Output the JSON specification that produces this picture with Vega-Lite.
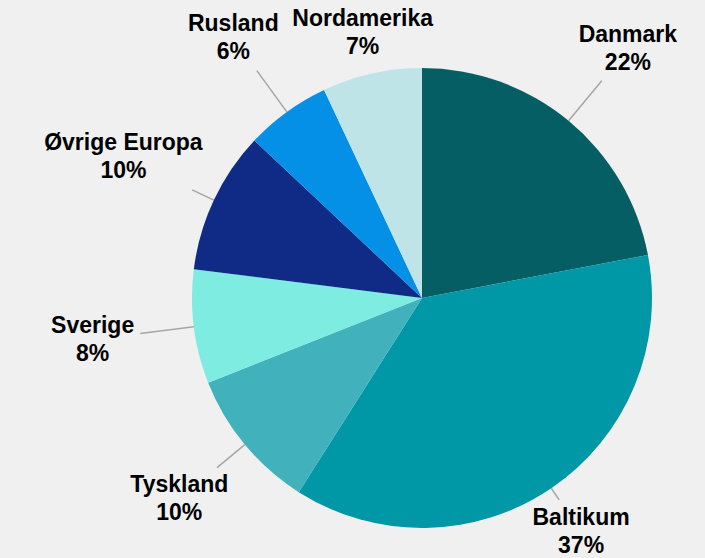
{
  "$schema": "https://vega.github.io/schema/vega-lite/v6.json",
  "autosize": {"type": "none"},
  "padding": {"left": 139, "top": 38, "right": 0, "bottom": 0},
  "width": 566,
  "height": 520,
  "background": "#f0f0f0",
  "view": {"stroke": null},
  "data": {
    "values": [
      {"order": 1, "land": "Danmark", "value": 0.22},
      {"order": 2, "land": "Baltikum", "value": 0.37},
      {"order": 3, "land": "Tyskland", "value": 0.10},
      {"order": 4, "land": "Sverige", "value": 0.08},
      {"order": 5, "land": "Øvrige Europa", "value": 0.10},
      {"order": 6, "land": "Rusland", "value": 0.06},
      {"order": 7, "land": "Nordamerika", "value": 0.07}
    ]
  },
  "layer": [
    {
      "mark": {"type": "arc", "radius": 230},
      "encoding": {
        "theta": {"field": "value", "type": "quantitative", "stack": true, "scale": {"domain": [0, 1]}},
        "order": {"field": "order", "type": "quantitative"},
        "color": {
          "field": "land",
          "type": "nominal",
          "legend": null,
          "scale": {
            "domain": ["Danmark", "Baltikum", "Tyskland", "Sverige", "Øvrige Europa", "Rusland", "Nordamerika"],
            "range": ["#055e63", "#0097a6", "#41b1bc", "#7fece2", "#0f2b86", "#0590e7", "#bfe4e8"]
          }
        }
      }
    },
    {
      "transform": [
        {"stack": "value", "groupby": [], "sort": [{"field": "order", "order": "ascending"}], "as": ["s0", "s1"]},
        {"fold": ["s0", "s1"], "as": ["k", "v"]},
        {"aggregate": [{"op": "mean", "field": "v", "as": "mid"}], "groupby": ["land", "order"]},
        {"filter": "datum.land !== 'Nordamerika'"}
      ],
      "mark": {"type": "arc", "radius2": 230, "filled": false, "stroke": "#a6a6a6", "strokeWidth": 1.5},
      "encoding": {
        "theta": {"field": "mid", "type": "quantitative"},
        "theta2": {"field": "mid"},
        "radius": {
          "field": "order",
          "type": "quantitative",
          "scale": {"type": "linear", "zero": false, "domain": [1, 2, 3, 4, 5, 6], "range": [282, 244, 266, 284, 254, 281]}
        }
      }
    },
    {
      "transform": [
        {"stack": "value", "groupby": [], "sort": [{"field": "order", "order": "ascending"}], "as": ["s0", "s1"]},
        {"fold": ["s0", "s1"], "as": ["k", "v"]},
        {"aggregate": [{"op": "mean", "field": "v", "as": "mid"}], "groupby": ["land", "order"]}
      ],
      "mark": {"type": "text", "font": "Liberation Sans", "fontSize": 23, "fontWeight": "bold", "color": "#000000", "dy": -14, "align": "center", "baseline": "middle"},
      "encoding": {
        "theta": {"field": "mid", "type": "quantitative"},
        "radius": {
          "field": "order",
          "type": "quantitative",
          "scale": {"type": "linear", "zero": false, "domain": [1, 2, 3, 4, 5, 6, 7], "range": [323, 283, 315, 332, 330, 321, 272]}
        },
        "text": {"field": "land", "type": "nominal"}
      }
    },
    {
      "transform": [
        {"stack": "value", "groupby": [], "sort": [{"field": "order", "order": "ascending"}], "as": ["s0", "s1"]},
        {"fold": ["s0", "s1"], "as": ["k", "v"]},
        {"aggregate": [{"op": "mean", "field": "v", "as": "mid"}, {"op": "max", "field": "value", "as": "andel"}], "groupby": ["land", "order"]}
      ],
      "mark": {"type": "text", "font": "Liberation Sans", "fontSize": 23, "fontWeight": "bold", "color": "#000000", "dy": 14, "align": "center", "baseline": "middle"},
      "encoding": {
        "theta": {"field": "mid", "type": "quantitative"},
        "radius": {
          "field": "order",
          "type": "quantitative",
          "scale": {"type": "linear", "zero": false, "domain": [1, 2, 3, 4, 5, 6, 7], "range": [323, 283, 315, 332, 330, 321, 272]}
        },
        "text": {"field": "andel", "type": "quantitative", "format": ".0%"}
      }
    }
  ],
  "resolve": {"scale": {"radius": "independent"}}
}
